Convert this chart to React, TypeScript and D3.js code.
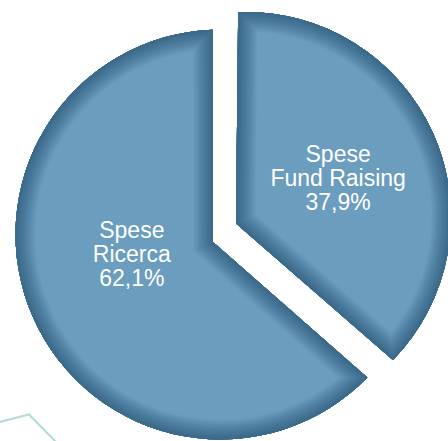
import React from "react";
import * as d3 from "d3";

// ---- data ----
const categories = ["Spese Fund Raising", "Spese Ricerca"];
const labelLines = [["Spese", "Fund Raising"], ["Spese", "Ricerca"]];
const values = [37.9, 62.1];
const percentLabels = ["37,9%", "62,1%"];

// ---- layout / style ----
const W = 448;
const H = 441;
const R = 205;
const startDeg = -2.2;
// apex (corner) of each slice
const apex = [
  { x: 236, y: 223.5 },
  { x: 213, y: 242 },
];
// arc centre relative to apex
const arcShift = [
  { x: 10, y: -6.5 },
  { x: 7.5, y: -7.5 },
];
const labelNudge = [
  { x: -1.5, y: 10.5 },
  { x: 5, y: -14.5 },
];
const lightColor = "#6a9dbe";
const darkColor = "#3a6889";
const decoLine: [number, number][] = [
  [-2, 422.5],
  [29, 414.5],
  [57, 443],
];

function slicePath(a0: number, a1: number, i: number) {
  const ax = apex[i].x;
  const ay = apex[i].y;
  const cx = ax + arcShift[i].x;
  const cy = ay + arcShift[i].y;
  const p = d3.path();
  p.moveTo(ax, ay);
  p.arc(cx, cy, R, a0 - Math.PI / 2, a1 - Math.PI / 2);
  p.closePath();
  return p.toString();
}

export default function App() {
  const pie = d3
    .pie<number>()
    .sort(null)
    .startAngle((startDeg * Math.PI) / 180)
    .endAngle((startDeg * Math.PI) / 180 + 2 * Math.PI);
  const arcs = pie(values);
  const centroidArc = d3.arc<any>().innerRadius(0).outerRadius(R);
  const N = 12;
  const step = 1.75;
  const col = d3.interpolateRgb(darkColor, lightColor);
  const lineGen = d3.line();

  return (
    <svg
      width={W}
      height={H}
      style={{ position: "absolute", left: 0, top: 0, background: "#fff" }}
      fontFamily="'Liberation Sans', Arial, Helvetica, sans-serif"
    >
      <defs>
        {arcs.map((a, i) => (
          <clipPath id={`clip-${i}`} key={i}>
            <path d={slicePath(a.startAngle, a.endAngle, i)} />
          </clipPath>
        ))}
      </defs>
      <path d={lineGen(decoLine) || ""} fill="none" stroke="#b4ddd9" strokeWidth={2.2} />
      {arcs.map((a, i) => {
        const d = slicePath(a.startAngle, a.endAngle, i);
        const bands = d3.range(N, 0, -1);
        return (
          <g key={categories[i]}>
            <path d={d} fill={lightColor} />
            {bands.map((k) => (
              <path
                key={k}
                d={d}
                fill="none"
                stroke={col(Math.pow(k / N, 1.3))}
                strokeWidth={2 * k * step}
                strokeLinejoin="miter"
                clipPath={`url(#clip-${i})`}
              />
            ))}
          </g>
        );
      })}
      {arcs.map((a, i) => {
        const [mx, my] = centroidArc.centroid(a);
        const x = apex[i].x + arcShift[i].x + mx + labelNudge[i].x;
        const y = apex[i].y + arcShift[i].y + my + labelNudge[i].y;
        const lines = [...labelLines[i], percentLabels[i]];
        return (
          <text key={i} x={x} y={y} fill="#ffffff" fontSize={23} textAnchor="middle">
            {lines.map((t, j) => (
              <tspan key={j} x={x} y={y + (j - 1) * 24}>
                {t}
              </tspan>
            ))}
          </text>
        );
      })}
    </svg>
  );
}
